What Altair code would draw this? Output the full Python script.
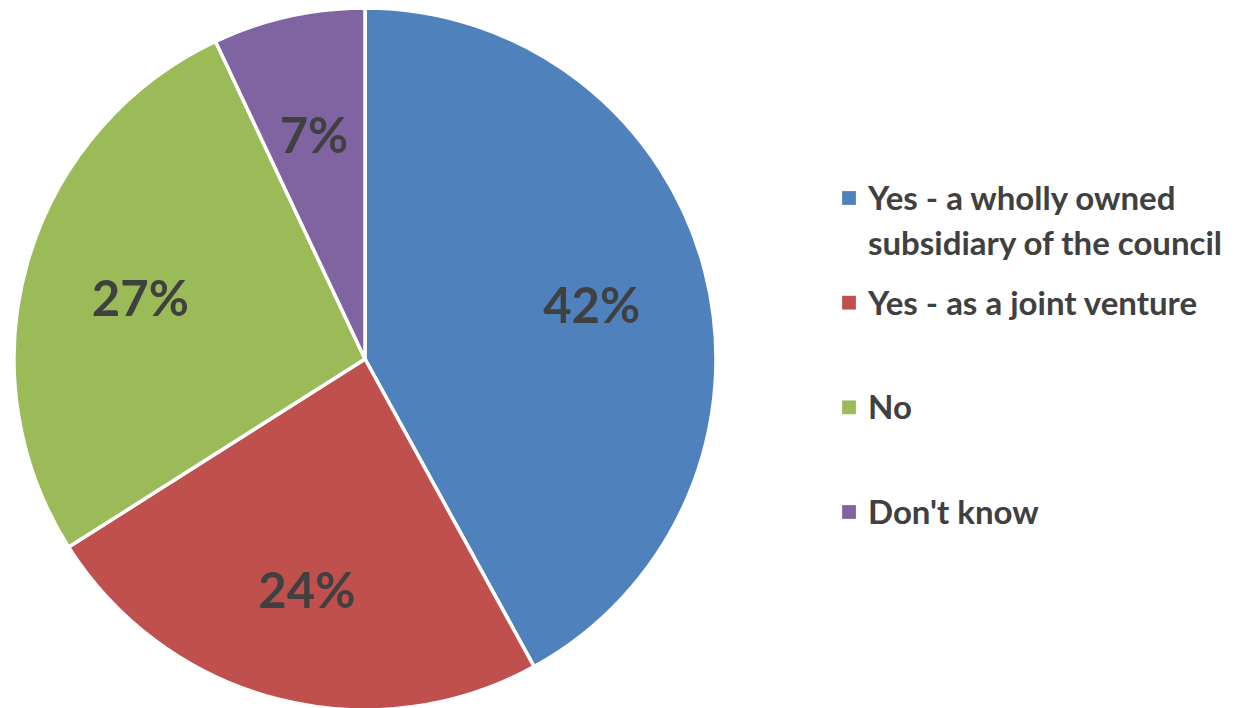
import altair as alt
import pandas as pd

categories = ["Yes - a wholly owned\nsubsidiary of the council", "Yes - as a joint venture", "No", "Don't know"]
values = [42, 24, 27, 7]
labels = ["42%", "24%", "27%", "7%"]
colors = ["#4F81BD", "#C0504D", "#9BBB59", "#8064A2"]

df = pd.DataFrame({
    "category": categories,
    "value": values,
    "label": labels,
    "idx": list(range(len(categories))),
})

W, H = 1234, 700
CX, CY, R = 357, 351, 351
FONT = "Lato"
TXT = "#404040"

color = alt.Color("category:N", scale=alt.Scale(domain=categories, range=colors), legend=None)
base = alt.Chart(df)

pie = base.mark_arc(stroke="white", strokeWidth=3.5, x=CX, y=CY, outerRadius=R).encode(
    theta=alt.Theta("value:Q", stack=True),
    order=alt.Order("idx:Q"),
    color=color,
)

text = base.mark_text(x=CX, y=CY, radius=234, font=FONT, fontWeight="bold", fontSize=49,
                      color=TXT, align="center", baseline="middle", dy=7).encode(
    theta=alt.Theta("value:Q", stack=True),
    order=alt.Order("idx:Q"),
    text="label:N",
)

ly = alt.Y("category:N", scale=alt.Scale(domain=categories, range=[190, 504], padding=0), axis=None)

leg_sym = base.mark_square(size=190, opacity=1).encode(
    x=alt.value(841),
    y=ly,
    color=color,
)

leg_txt = base.mark_text(font=FONT, fontWeight="bold", fontSize=33, color=TXT, align="left",
                         baseline="alphabetic", dy=12, lineBreak="\n", lineHeight=45).encode(
    x=alt.value(860),
    y=ly,
    text="category:N",
)

chart = alt.layer(pie, text, leg_sym, leg_txt).properties(
    width=W, height=H, autosize="none", padding=0
).configure_view(stroke=None)

chart.save("out.html", embed_options={"renderer": "svg", "actions": False})
